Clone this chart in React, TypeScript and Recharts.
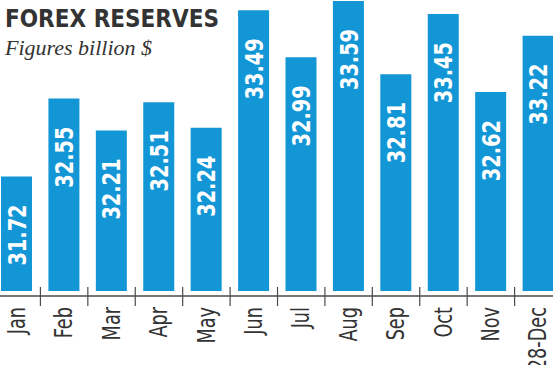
import { BarChart, Bar, XAxis, YAxis, LabelList } from "recharts";

const MONTHS = ["Jan", "Feb", "Mar", "Apr", "May", "Jun", "Jul", "Aug", "Sep", "Oct", "Nov", "28-Dec"];
const RESERVES = [31.72, 32.55, 32.21, 32.51, 32.24, 33.49, 32.99, 33.59, 32.81, 33.45, 32.62, 33.22];

const BLUE = "#1396d6";
const DARK = "#333333";
const AXIS = "#4a4a4a";
const COND = "'DejaVu Sans Condensed', 'DejaVu Sans', sans-serif";

const CHART_W = 569;
const CHART_H = 365;
const HALF = CHART_W / MONTHS.length / 2;

const data = MONTHS.map((m, i) => ({ month: m, value: RESERVES[i] }));

/* eslint-disable @typescript-eslint/no-explicit-any */
const MonthTick = (props: any) => {
  const { x, y, payload } = props;
  return (
    <g>
      <line x1={x - HALF} x2={x + HALF} y1={y + 5} y2={y + 5} stroke={AXIS} strokeWidth={1.5} />
      <line x1={x + HALF} x2={x + HALF} y1={y - 4} y2={y + 15} stroke={AXIS} strokeWidth={1.2} />
      <g transform={`translate(${x}, ${y + 16}) rotate(-90) scale(0.82, 1)`}>
        <text x={0} y={0} textAnchor="end" dominantBaseline="central" fill={DARK} fontSize={24} fontFamily={COND}>
          {payload.value}
        </text>
      </g>
    </g>
  );
};

const ValueLabel = (props: any) => {
  const { x, y, width, value } = props;
  const cx = Number(x) + Number(width) / 2;
  const cy = Number(y) + 28;
  return (
    <g transform={`translate(${cx}, ${cy}) rotate(-90) scale(0.86, 1)`}>
      <text x={0} y={0} textAnchor="end" dominantBaseline="central" fill="#ffffff" fontSize={25} fontWeight="bold" fontFamily={COND}>
        {Number(value).toFixed(2)}
      </text>
    </g>
  );
};

export default function App() {
  return (
    <div style={{ position: "absolute", left: 0, top: 0, width: 553, height: 365, overflow: "hidden", background: "#fff" }}>
      <div style={{ position: "absolute", left: -7, top: 0 }}>
        <BarChart width={CHART_W} height={CHART_H} data={data} margin={{ top: 0, right: 0, bottom: 0, left: 0 }} barSize={31}>
          <YAxis hide domain={[30.5, 33.6]} allowDataOverflow />
          <XAxis
            dataKey="month"
            height={74}
            axisLine={false}
            tickLine={false}
            tickSize={0}
            tickMargin={0}
            interval={0}
            tick={<MonthTick />}
          />
          <Bar dataKey="value" fill={BLUE} isAnimationActive={false}>
            <LabelList dataKey="value" content={<ValueLabel />} />
          </Bar>
        </BarChart>
      </div>
      <svg width={553} height={365} style={{ position: "absolute", left: 0, top: 0, pointerEvents: "none" }}>
        <text x={5} y={27} fontSize={24} fontWeight="bold" fill={DARK} fontFamily={COND}>
          FOREX RESERVES
        </text>
        <text x={5} y={55} fontSize={22} fontStyle="italic" fill={DARK} fontFamily="'Liberation Serif', serif">
          Figures billion $
        </text>
      </svg>
    </div>
  );
}
